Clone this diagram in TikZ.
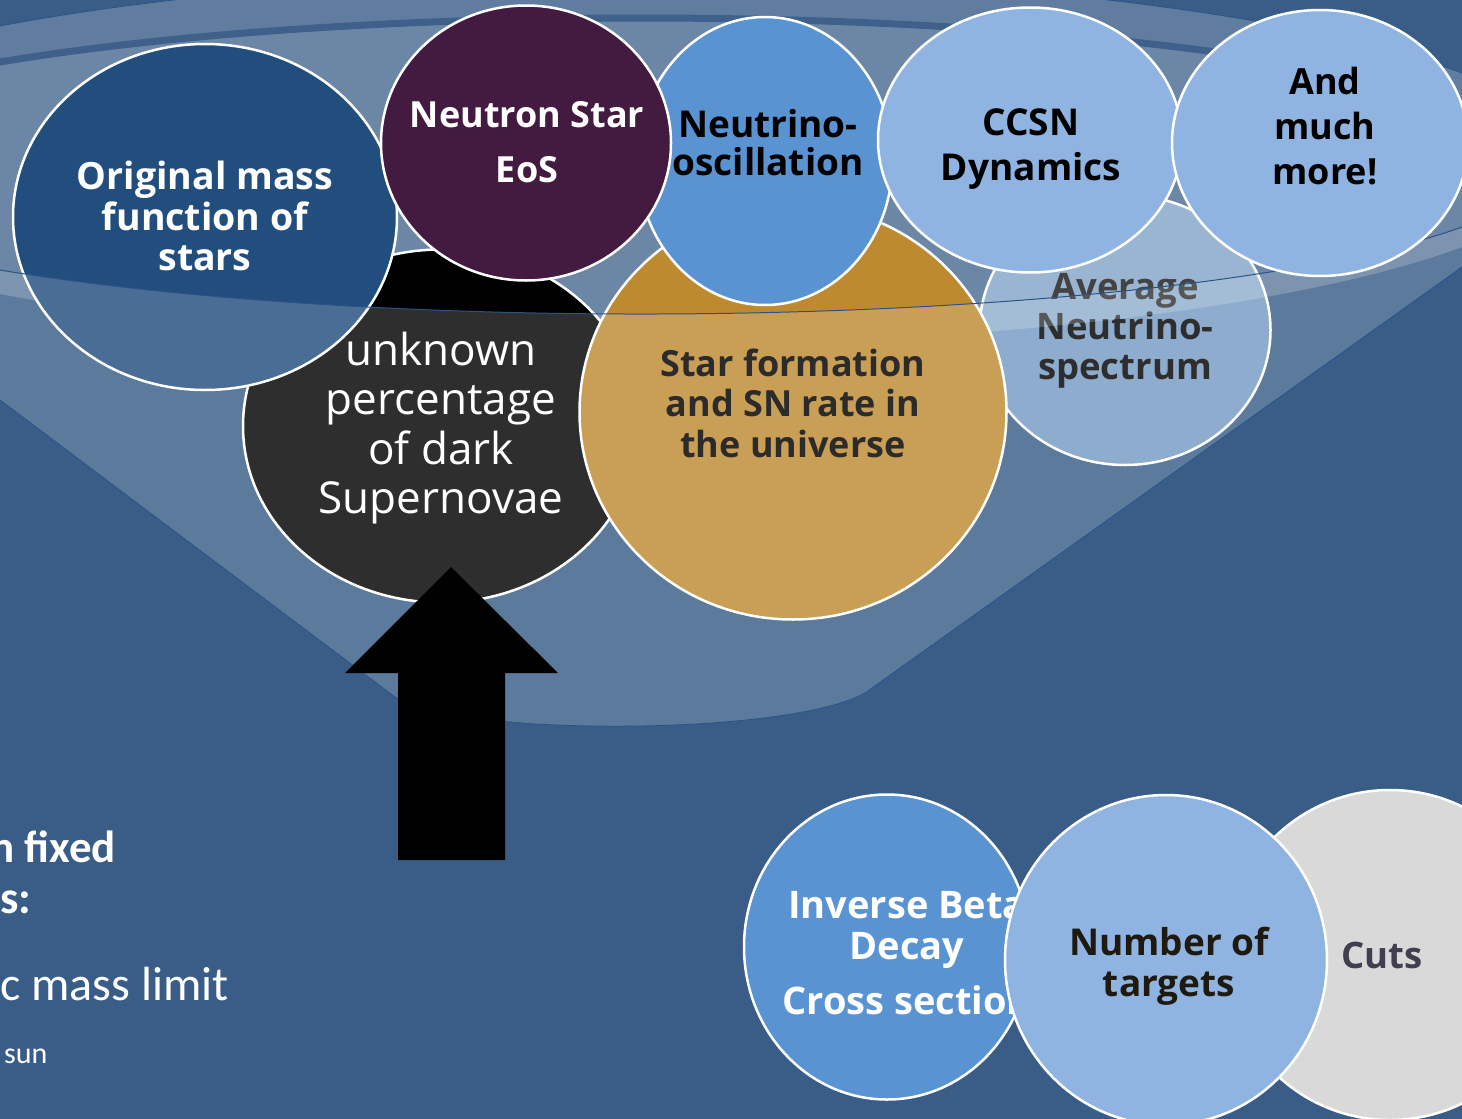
\documentclass[tikz,border=0pt]{standalone}
\usepackage{fontspec}
\setmainfont{Open Sans}
\newfontfamily\slidefont{Carlito}
\usetikzlibrary{shapes.geometric}

\definecolor{slidebg}{HTML}{395D87}
\definecolor{rimline}{HTML}{2A5488}
\definecolor{rimstripe}{HTML}{3E608A}
\definecolor{massblue}{HTML}{224E7E}
\definecolor{nspurple}{HTML}{431A40}
\definecolor{oscblue}{HTML}{5A93D2}
\definecolor{sfgold}{HTML}{BE8A30}
\definecolor{paleblue}{HTML}{8FB4E2}
\definecolor{specblue}{HTML}{769BC4}
\definecolor{cutgrey}{HTML}{D9D9D9}
\definecolor{sftext}{HTML}{2B2B2B}
\definecolor{targettext}{HTML}{1F1A10}
\definecolor{cuttext}{HTML}{3F3F4F}

\begin{document}
\begin{tikzpicture}[x=1pt,y=-1pt,
  bubble/.style={ellipse, draw=white, line width=2.5pt, inner sep=0pt, outer sep=0pt},
  bubtext/.style={align=center, inner sep=0pt, font=\bfseries\fontsize{37}{41}\selectfont}]

  \path[use as bounding box] (0,0) rectangle (1462,1119);
  \clip (0,0) rectangle (1462,1119);
  \fill[slidebg] (0,0) rectangle (1462,1119);

  % the one bubble behind the bowl
  \node[bubble, fill=specblue, minimum width=291pt, minimum height=270pt] (spec) at (1125,330) {};
  \node[bubtext, font=\bfseries\fontsize{36.5}{40}\selectfont] (spectxt) at (1125,331) {Average\\Neutrino-\\spectrum};

  % bowl, back wall and rim
  \fill[white, fill opacity=0.2] (641,160) ellipse [x radius=930, y radius=185];
  \draw[rimline, line width=0.8pt] (-289,160) arc[start angle=180, end angle=360, x radius=930, y radius=185];
  \fill[white, fill opacity=0.08] (641,166) ellipse [x radius=901, y radius=148];
  \draw[rimstripe, line width=7pt] (-260,166) arc[start angle=180, end angle=360, x radius=901, y radius=148];

  % bubbles inside the bowl
  \node[bubble, fill=black, minimum width=396pt, minimum height=353pt] (dark) at (441,426) {};
  \node[bubble, fill=massblue, minimum width=384pt, minimum height=346pt] (imf) at (205,217) {};
  \node[bubble, fill=sfgold, minimum width=427pt, minimum height=415pt] (sfr) at (793,412) {};
  \node[align=center, inner sep=0pt, text=white, font=\fontsize{44}{49.5}\selectfont] (darktxt) at (441,428) {unknown\\percentage\\of dark\\Supernovae};
  \node[bubtext, text=white, font=\bfseries\fontsize{37.5}{40.5}\selectfont] (imftxt) at (205,216) {Original mass\\function of\\stars};

  % bowl, front face
  \fill[white, fill opacity=0.18] (1462,227) arc[start angle=24.33, end angle=135.35, x radius=901, y radius=148]
    -- (0,400) -- (395,697) .. controls (455,724) and (560,727) .. (640,726)
    .. controls (760,724) and (850,708) .. (872,688) -- (1462,267) -- cycle;
  \draw[rimline, line width=0.8pt] (0,400) -- (395,697) .. controls (455,724) and (560,727) .. (640,726)
    .. controls (760,724) and (850,708) .. (872,688) -- (1462,267);
  \draw[rimline, line width=1pt] (1462,227) arc[start angle=24.33, end angle=135.35, x radius=901, y radius=148];

  \node[bubtext, text=sftext, font=\bfseries\fontsize{36}{40.5}\selectfont] (sfrtxt) at (793,403) {Star formation\\and SN rate in\\the universe};

  % bubbles on the rim
  \node[bubble, fill=oscblue, minimum width=255pt, minimum height=288pt] (osc) at (765,161) {};
  \node[bubtext, font=\bfseries\fontsize{37}{38}\selectfont] (osctxt) at (768,143) {Neutrino-\\oscillation};
  \node[bubble, fill=nspurple, minimum width=290pt, minimum height=275pt] (eos) at (526,143) {};
  \node[bubtext, text=white, font=\bfseries\fontsize{36}{55}\selectfont] (eostxt) at (527,142) {Neutron Star\\EoS};
  \node[bubble, fill=paleblue, minimum width=304pt, minimum height=265pt] (ccsn) at (1030,140) {};
  \node[bubtext, font=\bfseries\fontsize{37}{45}\selectfont] (ccsntxt) at (1031,149) {CCSN\\Dynamics};
  \node[bubble, fill=paleblue, minimum width=296pt, minimum height=266pt] (more) at (1320,143) {};
  \node[bubtext, font=\bfseries\fontsize{36}{45}\selectfont] (moretxt) at (1325,126) {And\\much\\more!};

  % arrow into the bowl
  \fill[black] (451,567) -- (558,673) -- (505,673) -- (505,860) -- (398,860) -- (398,673) -- (345,673) -- cycle;

  % detector bubbles
  \node[bubble, fill=oscblue, minimum width=286pt, minimum height=305pt] (ibd) at (887,947) {};
  \node[bubtext, text=white, font=\bfseries\fontsize{38}{41}\selectfont] (ibdtxt) at (907,953) {Inverse Beta\\Decay\\[14pt]Cross section};
  \node[bubble, fill=cutgrey, minimum width=330pt, minimum height=330pt] (cuts) at (1390,955) {};
  \node[bubtext, text=cuttext, font=\bfseries\fontsize{36.5}{41}\selectfont] (cutstxt) at (1382,955) {Cuts};
  \node[bubble, fill=paleblue, minimum width=322pt, minimum height=330pt] (targets) at (1166,960) {};
  \node[bubtext, text=targettext] (targetstxt) at (1169,966) {Number of\\targets};

  % cut-off slide text
  \node[anchor=base west, inner sep=0pt, text=white, font=\slidefont\bfseries\fontsize{45}{54}\selectfont] (fixed) at (-10,862) {n fixed};
  \node[anchor=base west, inner sep=0pt, text=white, font=\slidefont\bfseries\fontsize{46}{54}\selectfont] (params) at (0,913) {s:};
  \node[anchor=base west, inner sep=0pt, text=white, font=\slidefont\fontsize{48}{56}\selectfont] (limit) at (0,1000) {c mass limit};
  \node[anchor=base west, inner sep=0pt, text=white, font=\slidefont\fontsize{30}{36}\selectfont] (sun) at (4,1063) {sun};
\end{tikzpicture}
\end{document}
